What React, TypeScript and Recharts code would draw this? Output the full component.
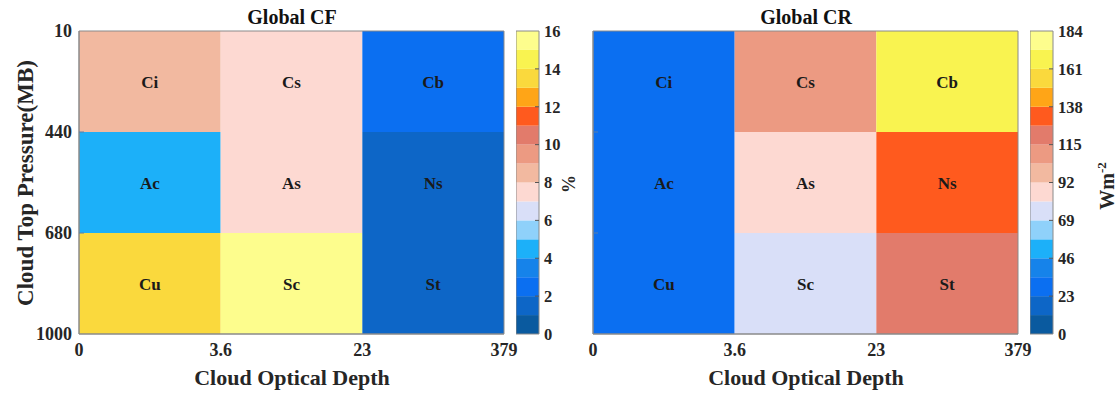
import React from 'react';
import { ComposedChart, XAxis, YAxis, ReferenceArea } from 'recharts';

const FONT = '"Liberation Serif", "Times New Roman", serif';
const TEXT = '#262626';
const FRAME = '#8a8a8a';

// colormap levels, from lowest to highest
const levelColors = [
  '#0a5a9f', '#0d66c7', '#0b6ff1', '#1683ea', '#1cb0f9', '#8fd1fa', '#d9dff8', '#fdd9d2',
  '#f2b9a0', '#ec9a82', '#e27b6b', '#ff5a1e', '#ffa517', '#fad93d', '#f9f350', '#fdfd8d',
];

const xTickLabels = ['0', '3.6', '23', '379'];
const yTickLabels = ['10', '440', '680', '1000'];
const cloudTypes = [
  ['Ci', 'Cs', 'Cb'],
  ['Ac', 'As', 'Ns'],
  ['Cu', 'Sc', 'St'],
];
const cfValues = [
  [8.5, 7.6, 2.5],
  [4.5, 7.6, 1.5],
  [13.5, 15.4, 1.5],
];
const crValues = [
  [28, 110, 167],
  [28, 86, 132],
  [28, 75, 121],
];
const cfTicks = [0, 2, 4, 6, 8, 10, 12, 14, 16];
const crTicks = [0, 23, 46, 69, 92, 115, 138, 161, 184];
const cfMax = 16;
const crMax = 184;

const colorFor = (v: number, max: number) => {
  const step = max / levelColors.length;
  return levelColors[Math.min(levelColors.length - 1, Math.floor(v / step))];
};

const idx = [0, 1, 2, 3];

const XTick = (props: any) => {
  const { x, y, payload } = props;
  return (
    <text x={x} y={y} dy="0.71em" textAnchor="middle" fontFamily={FONT} fontWeight="bold" fontSize={18} fill={TEXT}>
      {xTickLabels[payload.value]}
    </text>
  );
};

const makeYTick = (showLabel: boolean, margin: number) => (props: any) => {
  const { x, y, payload } = props;
  const ax = x + margin;
  const inner = payload.value === 1 || payload.value === 2;
  return (
    <g>
      {showLabel && (
        <text x={x} y={y} dy="0.35em" textAnchor="end" fontFamily={FONT} fontWeight="bold" fontSize={18} fill={TEXT}>
          {yTickLabels[payload.value]}
        </text>
      )}
      {inner && <line x1={ax} x2={ax + 5} y1={y} y2={y} stroke="#5a7fa8" strokeWidth={1} />}
    </g>
  );
};

function HeatPanel({ left, width, yAxisWidth, rightMargin, showYLabels, values, max }: any) {
  const yMargin = 7;
  return (
    <div style={{ position: 'absolute', left, top: 0 }}>
      <ComposedChart width={width} height={394} data={[]} margin={{ top: 31, right: rightMargin, bottom: 0, left: 0 }}>
        <XAxis
          type="number"
          dataKey="x"
          domain={[0, 3]}
          ticks={idx}
          allowDataOverflow
          height={60}
          tickSize={0}
          tickMargin={9}
          tick={<XTick />}
          axisLine={{ stroke: FRAME }}
          interval={0}
        />
        <YAxis
          type="number"
          dataKey="y"
          domain={[0, 3]}
          ticks={idx}
          reversed
          allowDataOverflow
          width={yAxisWidth}
          tickSize={0}
          tickMargin={yMargin}
          tick={makeYTick(showYLabels, yMargin)}
          axisLine={{ stroke: FRAME }}
          interval={0}
        />
        {cloudTypes.map((row: string[], r: number) =>
          row.map((name: string, c: number) => (
            <ReferenceArea
              key={`${r}-${c}`}
              x1={c}
              x2={c + 1}
              y1={r}
              y2={r + 1}
              fill={colorFor(values[r][c], max)}
              fillOpacity={1}
              stroke="none"
              label={{ value: name, position: 'center', fill: '#1a1a1a', fontSize: 17, fontWeight: 'bold', fontFamily: FONT }}
            />
          ))
        )}
        <ReferenceArea x1={0} x2={3} y1={0} y2={3} fill="none" fillOpacity={0} stroke={FRAME} strokeWidth={1} />
      </ComposedChart>
    </div>
  );
}

function ColorBar({ left, axisWidth, ticks, max }: any) {
  const margin = 5;
  const CbTick = (props: any) => {
    const { x, y, payload } = props;
    const ax = x - margin;
    const inner = payload.value !== 0 && payload.value !== max;
    return (
      <g>
        <text x={x} y={y} dy="0.35em" textAnchor="start" fontFamily={FONT} fontWeight="bold" fontSize={16.5} fill={TEXT}>
          {payload.value}
        </text>
        {inner && <line x1={ax - 4} x2={ax} y1={y} y2={y} stroke="#555" strokeWidth={1} />}
      </g>
    );
  };
  const step = max / levelColors.length;
  return (
    <div style={{ position: 'absolute', left, top: 0 }}>
      <ComposedChart width={23 + axisWidth} height={394} data={[]} margin={{ top: 31, right: 0, bottom: 0, left: 0 }}>
        <XAxis
          type="number"
          dataKey="x"
          domain={[0, 1]}
          allowDataOverflow
          height={60}
          tick={false}
          tickLine={false}
          axisLine={false}
        />
        <YAxis
          type="number"
          dataKey="y"
          orientation="right"
          domain={[0, max]}
          allowDataOverflow
          ticks={ticks}
          width={axisWidth}
          tickSize={0}
          tickMargin={margin}
          tick={<CbTick />}
          axisLine={false}
          interval={0}
        />
        {levelColors.map((col: string, i: number) => (
          <ReferenceArea key={i} x1={0} x2={1} y1={i * step} y2={(i + 1) * step} fill={col} fillOpacity={1} stroke="none" />
        ))}
        <ReferenceArea x1={0} x2={1} y1={0} y2={max} fill="none" fillOpacity={0} stroke={FRAME} strokeWidth={1} />
      </ComposedChart>
    </div>
  );
}

export default function App() {
  return (
    <div style={{ position: 'absolute', left: 0, top: 0, width: 1117, height: 394, background: '#fff', overflow: 'hidden' }}>
      <HeatPanel left={0} width={520} yAxisWidth={79} rightMargin={16} showYLabels values={cfValues} max={cfMax} />
      <HeatPanel left={553} width={480} yAxisWidth={40} rightMargin={15} showYLabels={false} values={crValues} max={crMax} />
      <ColorBar left={516} axisWidth={45} ticks={cfTicks} max={cfMax} />
      <ColorBar left={1030} axisWidth={50} ticks={crTicks} max={crMax} />
      <svg width={1117} height={394} style={{ position: 'absolute', left: 0, top: 0, pointerEvents: 'none' }}>
        <g fontFamily={FONT} fontWeight="bold">
          <text x={292} y={24} textAnchor="middle" fontSize={20} fill="#111">Global CF</text>
          <text x={806} y={24} textAnchor="middle" fontSize={20} fill="#111">Global CR</text>
          <text x={292} y={385} textAnchor="middle" fontSize={22} fill={TEXT}>Cloud Optical Depth</text>
          <text x={806} y={385} textAnchor="middle" fontSize={22} fill={TEXT}>Cloud Optical Depth</text>
          <text x={0} y={0} transform="translate(33,183) rotate(-90)" textAnchor="middle" fontSize={23} fill={TEXT}>
            Cloud Top Pressure(MB)
          </text>
          <text x={0} y={0} transform="translate(575,184) rotate(-90)" textAnchor="middle" fontSize={18} fill={TEXT}>%</text>
          <text x={0} y={0} transform="translate(1114,186) rotate(-90)" textAnchor="middle" fontSize={20} fill={TEXT}>
            <tspan>Wm</tspan>
            <tspan dy={-8} fontSize={13}>-2</tspan>
          </text>
        </g>
      </svg>
    </div>
  );
}
